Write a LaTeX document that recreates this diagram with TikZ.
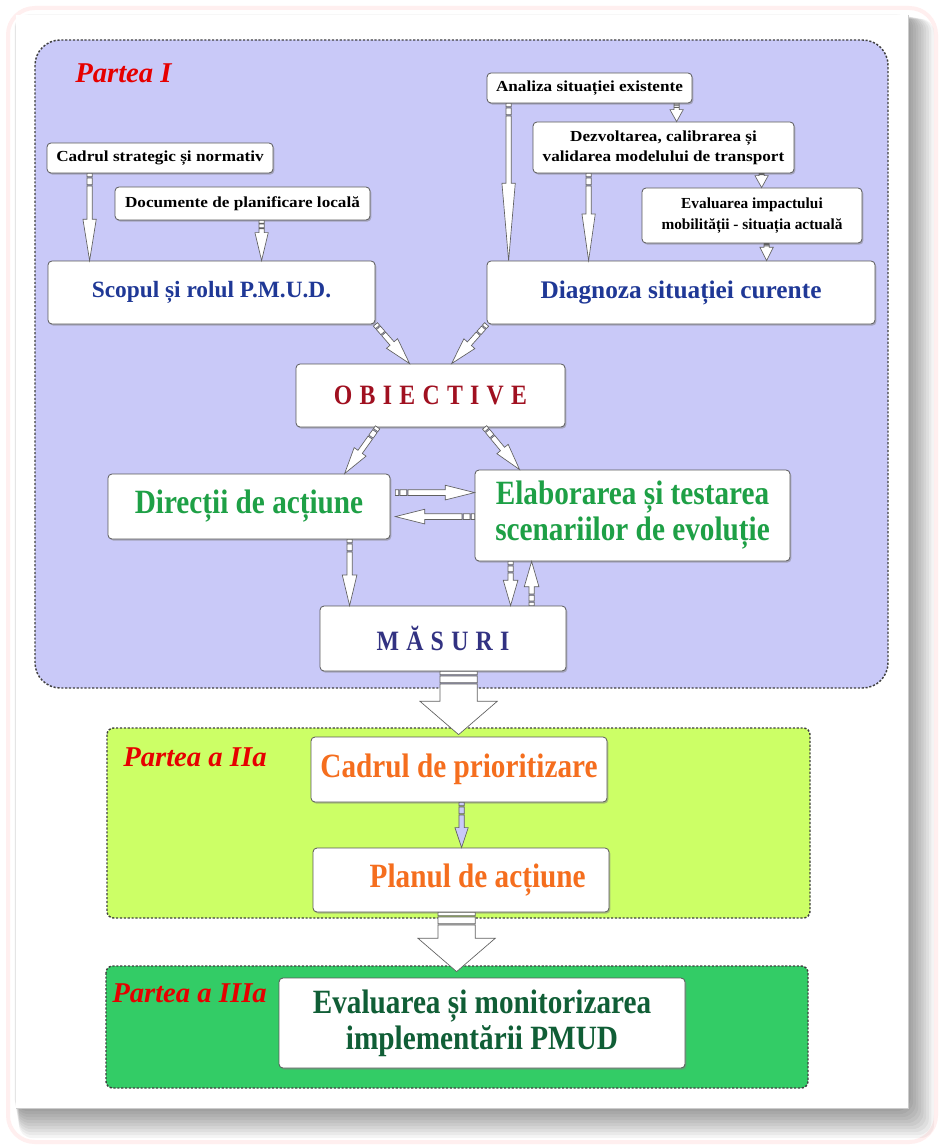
\documentclass[tikz,border=0pt]{standalone}
\usepackage{fontspec}
\setmainfont{Liberation Serif}
\newfontfamily\condb[FakeStretch=0.86]{Liberation Serif}
\newfontfamily\wide[FakeStretch=1.12]{Liberation Serif}
\newfontfamily\spaced[LetterSpace=26,FakeStretch=0.85]{Liberation Serif}
\usetikzlibrary{calc,shadows}
\definecolor{lav}{RGB}{201,201,248}
\definecolor{ygreen}{RGB}{204,255,102}
\definecolor{mgreen}{RGB}{51,204,102}
\definecolor{pred}{RGB}{230,0,0}
\definecolor{tblue}{RGB}{31,56,150}
\definecolor{tdred}{RGB}{160,16,32}
\definecolor{tgreen}{RGB}{30,160,70}
\definecolor{tnavy}{RGB}{50,50,130}
\definecolor{torange}{RGB}{245,110,30}
\definecolor{tdgreen}{RGB}{16,94,54}
\newcommand\barrow[6][]{%
  \draw[barr,#1] let \p1=(#2), \p2=(#3),
     \n1={atan2(\y2-\y1,\x2-\x1)}, \n2={veclen(\x2-\x1,\y2-\y1)},
     \n3={\n2-#6}, \n4={min(2.5,0.22*\n3)}, \n5={\n4+min(1,0.08*\n3)},
     \n6={\n5+min(5,0.3*\n3)}, \n7={\n6+min(1,0.08*\n3)}
   in {[shift={(\p1)}, rotate=\n1]
     (0pt,-#4) rectangle ({0pt+\n4},#4)
     ({0pt+\n5},-#4) rectangle ({0pt+\n6},#4)
     ({0pt+\n7},-#4) -- ({0pt+\n3},-#4) -- ({0pt+\n3},-#5) -- ({0pt+\n2},0pt)
       -- ({0pt+\n3},#5) -- ({0pt+\n3},#4) -- ({0pt+\n7},#4) -- cycle};
}
\begin{document}
\begin{tikzpicture}[x=0.75pt,y=-0.75pt,
  box/.style={draw=gray!70!black, line width=0.6pt, fill=white, rounded corners=3pt,
    inner sep=0pt, align=center,
    drop shadow={shadow xshift=1pt, shadow yshift=-1.2pt, fill=black!50, opacity=0.5}},
  sz/.style 2 args={minimum width=#1*0.75pt, minimum height=#2*0.75pt},
  smalltxt/.style={font=\wide\bfseries\fontsize{11.5}{15}\selectfont},
  bigtxt/.style={font=\condb\bfseries\fontsize{25.5}{27}\selectfont},
  part/.style={font=\bfseries\itshape\fontsize{21.5}{24}\selectfont, text=pred, inner sep=0pt},
  sect/.style={draw=black!75, line width=1.1pt, dash pattern=on 1.6pt off 1.3pt},
  barr/.style={draw=gray!75!black, fill=white, line width=0.5pt, line join=miter}]
\useasboundingbox (0,0) rectangle (941,1148);
% page
\fill[white] (0,0) rectangle (941,1148);
\draw[pink!25, line width=3pt, rounded corners=20pt] (8,8) rectangle (936,1142);
\foreach \i in {1,...,10}
  \fill[black, opacity=0.045, rounded corners=10pt] ({14+\i*0.5},{14+\i*0.5}) rectangle ({908+\i*2.6},{1108+\i*3});
\fill[white] (16,15) rectangle (908,1108);
\draw[gray!40, line width=0.5pt] (908,15) -- (908,1108) -- (16,1108);
% sections
\draw[sect, fill=lav, rounded corners=19pt] (35,40) rectangle (888,688);
\draw[sect, fill=ygreen, rounded corners=5pt] (107,728) rectangle (810,918);
\draw[sect, fill=mgreen, rounded corners=5pt] (106,966) rectangle (808,1088);
\node[part, anchor=west] (p1) at (75,73) {Partea I};
\node[part, anchor=west] (p2) at (123,757) {Partea a IIa};
\node[part, anchor=west] (p3) at (112,993) {Partea a IIIa};
% nodes
\node[box, smalltxt, sz={226}{30}] (cad) at (160,158) {Cadrul strategic și normativ};
\node[box, smalltxt, sz={255}{33}] (doc) at (242.5,203.5) {Documente de planificare locală};
\node[box, sz={327}{63}, font=\bfseries\fontsize{17.5}{20}\selectfont, text=tblue] (scop) at (211.5,292.5) {Scopul și rolul P.M.U.D.};
\node[box, smalltxt, sz={205}{30}] (anal) at (589.5,88) {Analiza situației existente};
\node[box, smalltxt, sz={261}{51}] (dezv) at (663.5,147.5) {Dezvoltarea, calibrarea și\\validarea modelului de transport};
\node[box, sz={220}{55}, font=\bfseries\fontsize{11.5}{15.5}\selectfont] (evim) at (752,215.5) {Evaluarea impactului\\mobilității - situația actuală};
\node[box, sz={388}{63}, font=\bfseries\fontsize{19}{21}\selectfont, text=tblue] (diag) at (681,292.5) {Diagnoza situației curente};
\node[box, sz={269}{63}, font=\spaced\bfseries\fontsize{21}{23}\selectfont, text=tdred] (obie) at (430.5,395.5) {OBIECTIVE};
\node[box, sz={282}{65}, bigtxt, text=tgreen] (dir) at (249,506.5) {Direcții de acțiune};
\node[box, sz={315}{91}, bigtxt, text=tgreen] (elab) at (632.5,515.5) {Elaborarea și testarea\\scenariilor de evoluție};
\node[box, sz={246}{65}, font=\spaced\bfseries\fontsize{21}{23}\selectfont, text=tnavy] (mas) at (443,638.5) {MĂSURI};
\node[box, sz={296}{65}, bigtxt, text=torange] (cpri) at (459,769.5) {Cadrul de prioritizare};
\node[box, sz={296}{64}, bigtxt, text=torange] (plan) at (461,880) {\hspace*{25pt}Planul de acțiune};
\node[box, sz={406}{90}, bigtxt, text=tdgreen] (eval) at (482,1023) {Evaluarea și monitorizarea\\implementării PMUD};
% arrows
\barrow{$(cad.south west)+(43,0)$}{$(scop.north west)+(42,0)$}{2pt}{5pt}{31pt}
\barrow{$(doc.south west)+(147,0)$}{$(scop.north west)+(214,0)$}{2pt}{5pt}{21pt}
\barrow{$(anal.south west)+(22,0)$}{$(diag.north west)+(22,0)$}{2pt}{5pt}{58pt}
\barrow{$(anal.south west)+(190,0)$}{$(dezv.north west)+(144,0)$}{2pt}{5pt}{9pt}
\barrow{$(dezv.south west)+(56,0)$}{$(diag.north west)+(102,0)$}{2pt}{5pt}{35pt}
\barrow{$(dezv.south west)+(229,0)$}{$(evim.north west)+(120,0)$}{2pt}{5pt}{9pt}
\barrow{$(evim.south west)+(125,0)$}{$(diag.north west)+(280,0)$}{2pt}{5pt}{10pt}
\barrow{scop.south east}{$(obie.north west)+(114,0)$}{2pt}{5.5pt}{20pt}
\barrow{diag.south west}{$(obie.north west)+(156,0)$}{2pt}{5.5pt}{20pt}
\barrow{$(obie.south west)+(82,0)$}{$(dir.north west)+(237,0)$}{2pt}{5.5pt}{20pt}
\barrow{$(obie.south west)+(189,0)$}{$(elab.north west)+(45,0)$}{2pt}{5.5pt}{20pt}
\barrow{$(dir.north east)+(5,19)$}{$(elab.north west)+(0,23)$}{2.2pt}{5.5pt}{22pt}
\barrow{$(elab.north west)+(0,47)$}{$(dir.north east)+(5,43)$}{2.2pt}{5.5pt}{22pt}
\barrow{$(dir.south west)+(242,0)$}{$(mas.north west)+(30,0)$}{2pt}{5.5pt}{23pt}
\barrow{$(elab.south west)+(36,0)$}{$(mas.north west)+(191,0)$}{2pt}{5.5pt}{19pt}
\barrow{$(mas.north west)+(212,0)$}{$(elab.south west)+(57,0)$}{2pt}{5.5pt}{19pt}
\barrow{$(mas.south west)+(139,0)$}{$(cpri.north west)+(148,-2)$}{14pt}{29pt}{25pt}
\barrow[fill=lav]{$(cpri.south west)+(151,0)$}{$(plan.north west)+(149,0)$}{2pt}{5pt}{15pt}
\barrow{$(plan.south west)+(144,0)$}{$(eval.north west)+(178,-6)$}{14pt}{29pt}{25pt}
\end{tikzpicture}
\end{document}
